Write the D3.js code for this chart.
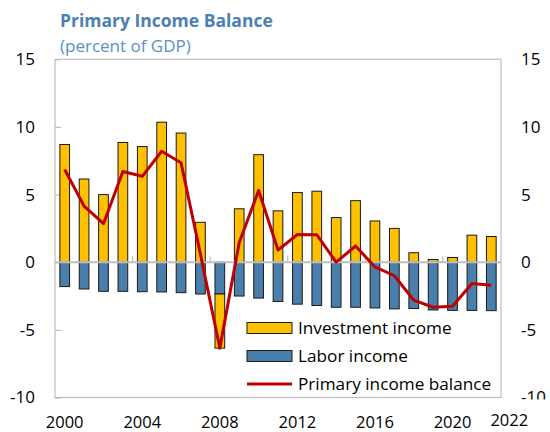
<!DOCTYPE html>
<html>
<head>
<meta charset="utf-8">
<script src="https://cdn.jsdelivr.net/npm/d3@7"></script>
<style>
  html, body { margin: 0; padding: 0; background: #fff; }
  svg { display: block; font-family: "Open Sans", "Noto Sans", sans-serif; }
</style>
</head>
<body>
<svg id="chart" width="550" height="432"></svg>
<script>
// Primary income balance components, percent of GDP
const years = [2000, 2001, 2002, 2003, 2004, 2005, 2006, 2007, 2008, 2009, 2010, 2011,
               2012, 2013, 2014, 2015, 2016, 2017, 2018, 2019, 2020, 2021, 2022];
const investmentIncome = [8.7, 6.15, 5.0, 8.85, 8.55, 10.35, 9.55, 2.95, -4.0, 3.95, 7.95, 3.8,
                          5.15, 5.25, 3.3, 4.55, 3.05, 2.5, 0.7, 0.2, 0.35, 2.0, 1.9];
const laborIncome = [-1.8, -1.98, -2.15, -2.15, -2.18, -2.2, -2.25, -2.35, -2.35, -2.5, -2.65, -2.9,
                     -3.1, -3.2, -3.33, -3.33, -3.38, -3.45, -3.42, -3.53, -3.56, -3.56, -3.58];
const primaryBalance = [6.85, 4.15, 2.85, 6.7, 6.35, 8.2, 7.35, 0.6, -6.35, 1.45, 5.3, 0.9,
                        2.05, 2.03, 0.0, 1.2, -0.35, -1.0, -2.8, -3.33, -3.25, -1.57, -1.7];
const yTicks = [-10, -5, 0, 5, 10, 15];
const xTickLabels = ["2000", "2004", "2008", "2012", "2016", "2020", "2022"];
const seriesNames = ["Investment income", "Labor income", "Primary income balance"];

const colors = { inv: "#FFC000", lab: "#4A7EAB", line: "#C00000", axis: "#BFBFBF", title: "#4D7FB3" };

const svg = d3.select("#chart");
const plot = { left: 55, right: 501, top: 59.3, bottom: 397.5 };

const x = d3.scaleBand().domain(years).range([plot.left, plot.right]).paddingInner(0.5).paddingOuter(0.25);
const y = d3.scaleLinear().domain([-10, 15]).range([plot.bottom, plot.top]);
const fmt = d => String(d);

// Title
svg.append("text").attr("x", 60).attr("y", 27)
  .attr("font-size", 17.5).attr("font-weight", 700).attr("fill", colors.title)
  .text("Primary Income Balance");
svg.append("text").attr("x", 60).attr("y", 52)
  .attr("font-size", 17).attr("fill", "#5B8FC7")
  .text("(percent of GDP)");

// Frame
svg.append("rect")
  .attr("x", plot.left).attr("y", plot.top)
  .attr("width", plot.right - plot.left).attr("height", plot.bottom - plot.top)
  .attr("fill", "none").attr("stroke", colors.axis).attr("stroke-width", 1.2);

// Clip for the lower edge of the right-hand labels (in the axis group's own coordinates)
svg.append("clipPath").attr("id", "rclip")
  .append("rect").attr("x", 0).attr("y", 0).attr("width", 60).attr("height", plot.bottom + 2);

// Left axis
const leftAxis = svg.append("g").attr("transform", `translate(${plot.left},0)`)
  .call(d3.axisRight(y).tickValues(yTicks).tickSize(6).tickFormat(fmt));
leftAxis.select(".domain").remove();
leftAxis.selectAll(".tick line").attr("stroke", colors.axis).attr("stroke-width", 1.2);
leftAxis.selectAll(".tick text")
  .attr("x", -20).attr("text-anchor", "end")
  .attr("font-size", 17).attr("font-family", "'Open Sans', sans-serif").attr("fill", "#000");

// Right axis
const rightAxis = svg.append("g").attr("transform", `translate(${plot.right},0)`)
  .attr("clip-path", "url(#rclip)")
  .call(d3.axisLeft(y).tickValues(yTicks).tickSize(6).tickFormat(fmt));
rightAxis.select(".domain").remove();
rightAxis.selectAll(".tick line").attr("stroke", colors.axis).attr("stroke-width", 1.2);
rightAxis.selectAll(".tick text")
  .attr("x", 20).attr("text-anchor", "start")
  .attr("font-size", 17).attr("font-family", "'Open Sans', sans-serif").attr("fill", "#000");

// Bars: labor income first (down from zero), investment income stacked on it
const stackRows = years.map((yr, i) => ({ year: yr, inv: investmentIncome[i], lab: laborIncome[i] }));
const segs = [];
stackRows.forEach(r => {
  segs.push({ year: r.year, key: "lab", y0: 0, y1: r.lab });
  if (r.inv >= 0) segs.push({ year: r.year, key: "inv", y0: 0, y1: r.inv });
  else segs.push({ year: r.year, key: "inv", y0: r.lab, y1: r.lab + r.inv });
});
svg.append("g").selectAll("rect").data(segs).join("rect")
  .attr("x", d => x(d.year))
  .attr("width", x.bandwidth())
  .attr("y", d => y(Math.max(d.y0, d.y1)))
  .attr("height", d => Math.abs(y(d.y0) - y(d.y1)))
  .attr("fill", d => colors[d.key])
  .attr("stroke", "#1a1a1a").attr("stroke-width", 1);

// Zero line with category ticks
const zeroY = y(0);
svg.append("line").attr("x1", plot.left).attr("x2", plot.right)
  .attr("y1", zeroY).attr("y2", zeroY)
  .attr("stroke", colors.axis).attr("stroke-width", 2);
const step = x.step();
const bandEdges = years.filter((yr, i) => i > 0 && i % 4 === 0);
svg.append("g").selectAll("line").data(bandEdges).join("line")
  .attr("x1", d => x(d) - step * x.paddingInner() / 2)
  .attr("x2", d => x(d) - step * x.paddingInner() / 2)
  .attr("y1", zeroY).attr("y2", zeroY - 6)
  .attr("stroke", colors.axis).attr("stroke-width", 1.2);

// Primary income balance line
const line = d3.line().x((d, i) => x(years[i]) + x.bandwidth() / 2).y(d => y(d));
svg.append("path").datum(primaryBalance)
  .attr("d", line).attr("fill", "none")
  .attr("stroke", colors.line).attr("stroke-width", 3).attr("stroke-linejoin", "round");

// Year labels
svg.append("g").selectAll("text").data(xTickLabels).join("text")
  .attr("x", d => x(+d) + x.bandwidth() / 2 + (d === "2022" ? 18 : 0))
  .attr("y", d => d === "2022" ? 426 : 428)
  .attr("text-anchor", "middle").attr("font-size", 16.5).attr("fill", "#000")
  .text(d => d);

// Legend
const lg = svg.append("g").attr("transform", "translate(247,328)");
const rowGap = 28;
seriesNames.forEach((name, i) => {
  const g = lg.append("g").attr("transform", `translate(0,${i * rowGap})`);
  if (i < 2) {
    g.append("rect").attr("x", 0).attr("y", -5.5).attr("width", 45).attr("height", 11)
      .attr("fill", i === 0 ? colors.inv : colors.lab).attr("stroke", "#1a1a1a").attr("stroke-width", 1);
  } else {
    g.append("line").attr("x1", 0).attr("x2", 45).attr("y1", 0).attr("y2", 0)
      .attr("stroke", colors.line).attr("stroke-width", 3);
  }
  g.append("text").attr("x", 51).attr("y", 0).attr("dy", "0.35em")
    .attr("font-size", 17.2).attr("fill", "#000").text(name);
});
</script>
</body>
</html>
